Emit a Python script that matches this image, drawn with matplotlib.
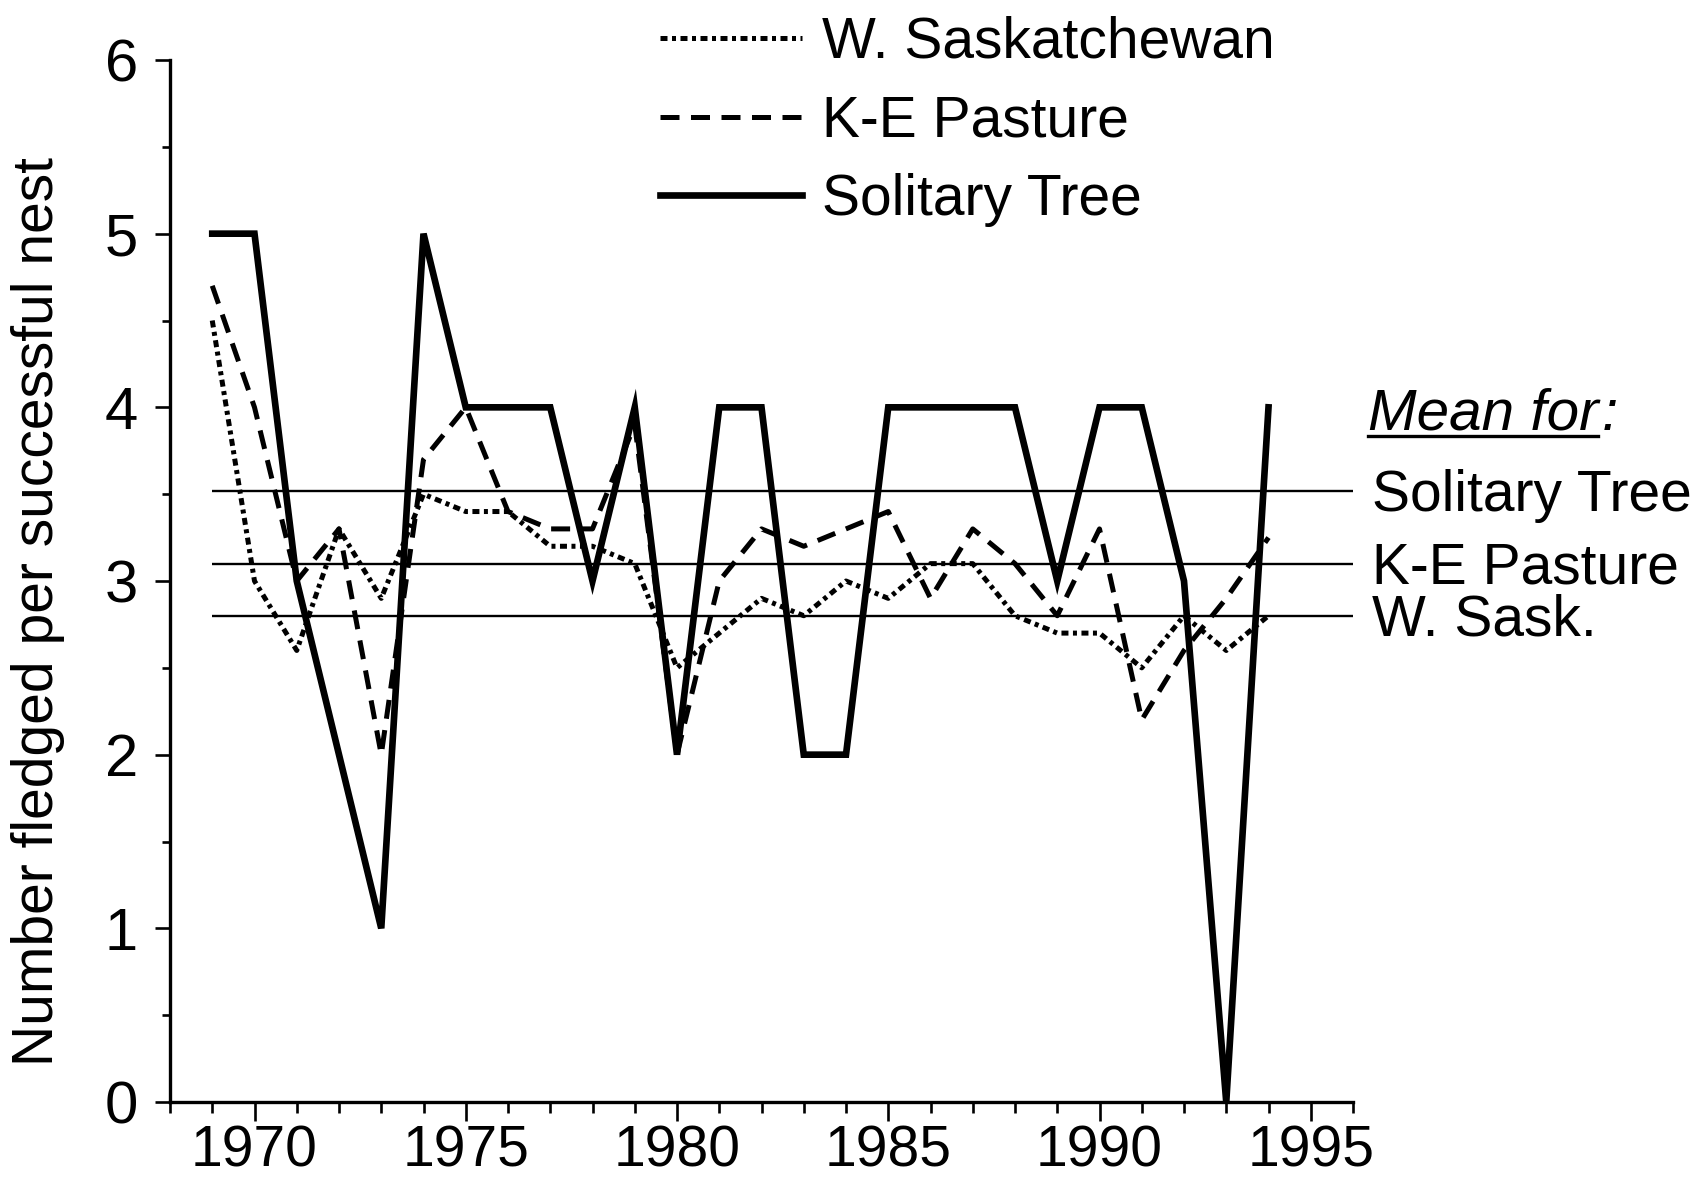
import matplotlib
matplotlib.use('Agg')
import matplotlib.pyplot as plt
from matplotlib import font_manager
from matplotlib.ticker import MultipleLocator, FixedLocator
from matplotlib.lines import Line2D

# ---------------- data ----------------
years = list(range(1969, 1995))
solitary_tree = [5, 5, 3, 2, 1, 5, 4, 4, 4, 3, 4, 2, 4, 4, 2, 2, 4, 4, 4, 4, 3, 4, 4, 3, 0, 4]
ke_pasture = [4.7, 4.0, 3.0, 3.3, 2.0, 3.7, 4.0, 3.4, 3.3, 3.3, 3.9, 2.0, 3.0, 3.3, 3.2,
              3.3, 3.4, 2.9, 3.3, 3.1, 2.8, 3.3, 2.2, 2.6, 2.9, 3.25]
w_sask = [4.5, 3.0, 2.6, 3.3, 2.9, 3.5, 3.4, 3.4, 3.2, 3.2, 3.1, 2.5, 2.7, 2.9, 2.8,
          3.0, 2.9, 3.1, 3.1, 2.8, 2.7, 2.7, 2.5, 2.8, 2.6, 2.8]
series_labels = ['W. Saskatchewan', 'K-E Pasture', 'Solitary Tree']
mean_labels = ['Solitary Tree', 'K-E Pasture', 'W. Sask.']
mean_values = [3.52, 3.10, 2.80]
mean_title = 'Mean for'
x_ticks = [1970, 1975, 1980, 1985, 1990, 1995]
y_ticks = [0, 1, 2, 3, 4, 5, 6]
y_label = 'Number fledged per successful nest'

# ---------------- fonts ----------------
names = {f.name for f in font_manager.fontManager.ttflist}
base = ['Liberation Sans', 'DejaVu Sans']
plt.rcParams['font.family'] = base
if 'Liberation Sans Narrow' in names:
    xfont = ['Liberation Sans Narrow', 'Liberation Sans', 'DejaVu Sans']
    xsize = 48
else:
    xfont = base
    xsize = 41

W, H = 1691, 1185
fig = plt.figure(figsize=(W / 100, H / 100), dpi=100)
ax = fig.add_axes([170 / W, 1 - 1102 / H, (1353 - 170) / W, (1102 - 60) / H])

# mean lines
ax.hlines(mean_values, 1969, 1996, colors='black', lw=1.7, zorder=1)

# series
l_w, = ax.plot(years, w_sask, color='black', lw=3.6, dashes=(1.4, 0.9, 0.8, 0.9),
               dash_capstyle='butt', clip_on=False, label=series_labels[0], zorder=3)
l_k, = ax.plot(years, ke_pasture, color='black', lw=3.6, dashes=(3.8, 2.3),
               dash_capstyle='butt', clip_on=False, label=series_labels[1], zorder=3)
l_s, = ax.plot(years, solitary_tree, color='black', lw=4.8, solid_joinstyle='miter',
               clip_on=False, label=series_labels[2], zorder=4)

ax.set_xlim(1968, 1996)
ax.set_ylim(0, 6)
for s in ['top', 'right']:
    ax.spines[s].set_visible(False)
for s in ['left', 'bottom']:
    ax.spines[s].set_linewidth(2.4)

ax.xaxis.set_major_locator(FixedLocator(x_ticks))
ax.xaxis.set_minor_locator(MultipleLocator(1))
ax.yaxis.set_major_locator(FixedLocator(y_ticks))
ax.yaxis.set_minor_locator(MultipleLocator(0.5))
ax.tick_params(axis='x', which='major', direction='out', length=14, width=1.9, pad=2)
ax.tick_params(axis='x', which='minor', direction='out', length=8, width=1.9)
ax.tick_params(axis='y', which='major', direction='out', length=11, width=1.9, pad=12,
               labelsize=43)
ax.tick_params(axis='y', which='minor', direction='out', length=6, width=1.9)
ax.set_xticklabels([str(t) for t in x_ticks], fontsize=xsize, family=xfont)

fig.text(38 / W, 1 - 612 / H, y_label, rotation=90, ha='center', va='center', fontsize=41)

# legend at top
ax.legend(handles=[l_w, l_k, l_s], loc='upper left', bbox_to_anchor=(660 / W, 1 - 16 / H),
          bbox_transform=fig.transFigure, frameon=False, fontsize=41, handlelength=2.5,
          handletextpad=0.35, labelspacing=0.43, borderpad=0, borderaxespad=0)

# mean labels at right
tx = 1996.45
for lab, val in zip(mean_labels, mean_values):
    ax.text(tx, val - 0.03, lab, ha='left', va='center', fontsize=41, clip_on=False)

ybase = 3.87
t_mean = ax.text(tx - 0.1, ybase, mean_title, ha='left', va='baseline', fontsize=42,
                 style='italic', clip_on=False)
fig.canvas.draw()
bb = t_mean.get_window_extent()
base_disp = ax.transData.transform((tx, ybase))
uy = base_disp[1] - 6
fig.add_artist(Line2D([bb.x0 / W, bb.x1 / W], [uy / H, uy / H], color='black', lw=2.4,
                      transform=fig.transFigure))
fig.text(bb.x1 / W + 0.002, base_disp[1] / H, ':', ha='left', va='baseline', fontsize=42,
         style='italic')

fig.savefig('out.png', dpi=100)
